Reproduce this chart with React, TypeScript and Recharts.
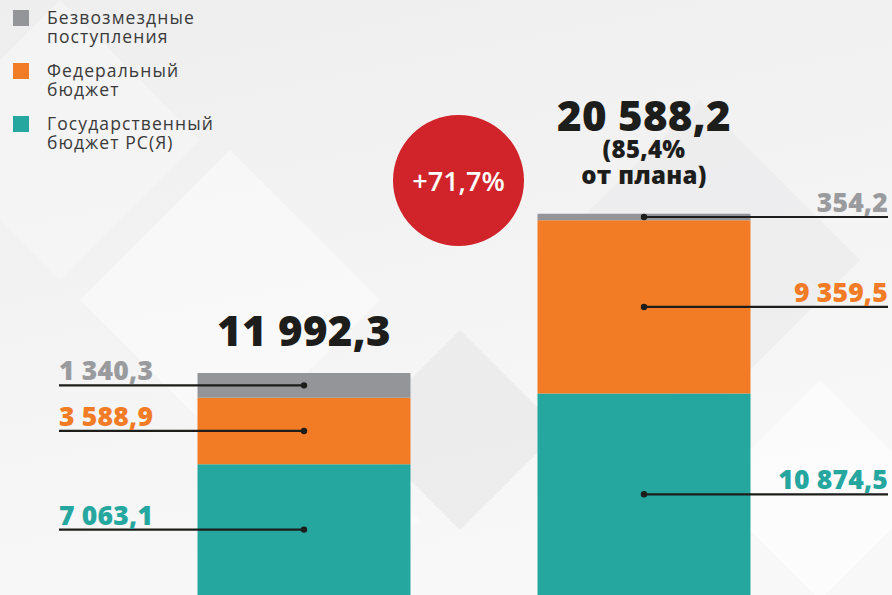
import React from 'react';
import { BarChart, Bar, XAxis, YAxis, LabelList, Legend } from 'recharts';

// periods are not labelled on the picture, the bars speak for themselves
const periods = ['Прошлый год', 'Текущий год'];
const regionalBudget = [7063.1, 10874.5];
const federalBudget = [3588.9, 9359.5];
const grants = [1340.3, 354.2];
const planPercent: (number | null)[] = [null, 85.4];

const seriesNames = {
  regional: 'Государственный\nбюджет РС(Я)',
  federal: 'Федеральный\nбюджет',
  grants: 'Безвозмездные\nпоступления',
};
const legendOrder = ['grants', 'federal', 'regional'];

const TEAL = '#25a7a0';
const ORANGE = '#f27b26';
const GREY = '#939598';
const RED = '#d0232a';
const INK = '#1d1d1b';
const NUM_FONT = '"Open Sans", "DejaVu Sans", sans-serif';
const TEXT_FONT = '"Open Sans", "Noto Sans", sans-serif';

const W = 892;
const H = 595;

const data = periods.map((p, i) => ({
  name: p,
  regional: regionalBudget[i],
  federal: federalBudget[i],
  grants: grants[i],
}));

const totals = periods.map((_, i) => regionalBudget[i] + federalBudget[i] + grants[i]);
const growth = (totals[1] / totals[0] - 1) * 100;

const fmt = (v: number) => {
  const [int, dec] = v.toFixed(1).split('.');
  return int.replace(/\B(?=(\d{3})+(?!\d))/g, ' ') + ',' + dec;
};

const makeSegmentLabel = (color: string) => (props: any) => {
  const { x, y, width, height, index, value } = props;
  const cx = x + width / 2;
  const cy = y + height / 2;
  const left = index === 0;
  const endX = left ? 59 : 888;
  return (
    <g>
      <line x1={endX} y1={cy} x2={cx} y2={cy} stroke={INK} strokeWidth={2.2} />
      <circle cx={cx} cy={cy} r={3.2} fill={INK} />
      <text
        x={endX}
        y={cy - 5}
        textAnchor={left ? 'start' : 'end'}
        fill={color}
        fontSize={26.5}
        fontWeight={800}
        fontFamily={NUM_FONT}
        letterSpacing={0.2}
      >
        {fmt(Number(value))}
      </text>
    </g>
  );
};

const TotalLabel = (props: any) => {
  const { x, y, width, index } = props;
  const cx = x + width / 2;
  const pct = planPercent[index];
  const notes = pct == null ? [] : [`(${fmt(pct)}%`, 'от плана)'];
  const lastBase = y - (notes.length ? 30 : 26);
  const totalBase = lastBase - notes.length * 26;
  return (
    <g>
      <text
        x={cx}
        y={totalBase - 1}
        textAnchor="middle"
        fill={INK}
        fontSize={42}
        fontWeight={800}
        fontFamily={NUM_FONT}
        letterSpacing={0.3}
      >
        {fmt(totals[index])}
      </text>
      {notes.map((n, k) => (
        <text
          key={k}
          x={cx}
          y={totalBase + 26 * (k + 1)}
          textAnchor="middle"
          fill={INK}
          fontSize={24}
          fontWeight={800}
          fontFamily={NUM_FONT}
          letterSpacing={0.3}
        >
          {n}
        </text>
      ))}
    </g>
  );
};

const LegendContent = (props: any) => {
  const items = [...(props.payload || [])].sort(
    (a: any, b: any) => legendOrder.indexOf(a.dataKey) - legendOrder.indexOf(b.dataKey)
  );
  return (
    <div style={{ position: 'relative', width: 280, height: 150 }}>
      {items.map((it: any, i: number) => (
        <div key={i} style={{ position: 'absolute', left: 0, top: 10 + i * 53 }}>
          <div style={{ position: 'absolute', left: 13, top: 0, width: 16, height: 16, background: it.color }} />
          <div
            style={{
              position: 'absolute',
              left: 47,
              top: -2,
              width: 230,
              fontFamily: TEXT_FONT,
              fontSize: 17.5,
              letterSpacing: 1.1,
              lineHeight: '18.5px',
              color: '#3a3a3a',
              whiteSpace: 'pre',
            }}
          >
            {String(it.value)}
          </div>
        </div>
      ))}
    </div>
  );
};

const Backdrop = () => (
  <svg width={W} height={H} style={{ position: 'absolute', left: 0, top: 0 }}>
    <defs>
      <linearGradient id="bg" x1="0" y1="0" x2="0.3" y2="1">
        <stop offset="0" stopColor="#eeeeef" />
        <stop offset="1" stopColor="#f8f8f8" />
      </linearGradient>
    </defs>
    <rect width={W} height={H} fill="url(#bg)" />
    <polygon points="230,150 380,300 230,450 80,300" fill="#ffffff" opacity={0.45} />
    <polygon points="460,330 560,430 460,530 360,430" fill="#e6e6e8" opacity={0.6} />
    <polygon points="700,100 860,260 700,420 540,260" fill="#e8e8ea" opacity={0.5} />
    <polygon points="60,0 200,140 60,280 -80,140" fill="#f7f7f7" opacity={0.6} />
    <polygon points="820,380 930,490 820,600 710,490" fill="#ffffff" opacity={0.5} />
    <polygon points="330,430 420,520 330,610 240,520" fill="#ffffff" opacity={0.35} />
  </svg>
);

export default function App() {
  return (
    <div style={{ position: 'absolute', left: 0, top: 0, width: W, height: H, overflow: 'hidden' }}>
      <Backdrop />
      <div style={{ position: 'absolute', left: 0, top: 0 }}>
        <BarChart
          width={W}
          height={H}
          data={data}
          margin={{ top: 0, right: 78.5, bottom: 0, left: 133.5 }}
          barSize={213}
        >
          <XAxis dataKey="name" hide />
          <YAxis hide domain={[0, 32130]} />
          <Legend
            layout="vertical"
            align="center"
            verticalAlign="middle"
            wrapperStyle={{ top: 0, left: 0, width: 280, height: 150 }}
            content={LegendContent}
          />
          <Bar dataKey="regional" name={seriesNames.regional} stackId="a" fill={TEAL} isAnimationActive={false}>
            <LabelList dataKey="regional" content={makeSegmentLabel(TEAL)} />
          </Bar>
          <Bar dataKey="federal" name={seriesNames.federal} stackId="a" fill={ORANGE} isAnimationActive={false}>
            <LabelList dataKey="federal" content={makeSegmentLabel(ORANGE)} />
          </Bar>
          <Bar dataKey="grants" name={seriesNames.grants} stackId="a" fill={GREY} isAnimationActive={false}>
            <LabelList dataKey="grants" content={makeSegmentLabel('#9a9b9e')} />
            <LabelList dataKey="grants" content={TotalLabel} />
          </Bar>
        </BarChart>
      </div>
      <div
        style={{
          position: 'absolute',
          left: 393,
          top: 115,
          width: 131,
          height: 131,
          borderRadius: '50%',
          background: RED,
          color: '#fff',
          display: 'flex',
          alignItems: 'center',
          justifyContent: 'center',
          fontFamily: TEXT_FONT,
          fontSize: 27,
          fontWeight: 600,
        }}
      >
        +{fmt(growth)}%
      </div>
    </div>
  );
}
